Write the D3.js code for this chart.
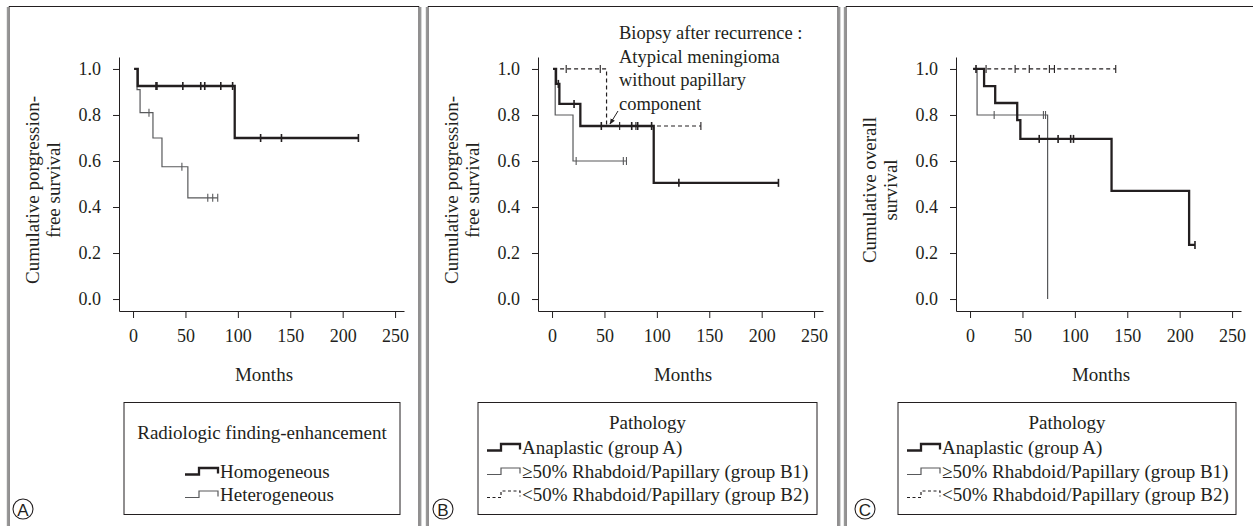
<!DOCTYPE html>
<html>
<head>
<meta charset="utf-8">
<script src="https://cdn.jsdelivr.net/npm/d3@7"></script>
<style>
  body { margin: 0; background: #fff; }
  text { font-family: "Liberation Serif", "DejaVu Serif", serif; fill: #231f20; }
</style>
</head>
<body>
<svg id="chart" width="1253" height="526"></svg>
<script>
// tick values
var xTicks = [0, 50, 100, 150, 200, 250]
var yTicks = [0, 0.2, 0.4, 0.6, 0.8, 1.0]

// panel A : radiologic finding (progression-free)
var aHomoSteps = [[1, 1], [4.5, 0.926], [97, 0.70]]
var aHomoCensor = [21.9, 22.8, 47.5, 64.6, 68.4, 83.7, 95, 121.7, 141.6, 215]
var aHomoEnd = 215
var aHeteroSteps = [[1, 1], [3.8, 0.91], [6.7, 0.81], [19, 0.70], [27.6, 0.575], [52.3, 0.44]]
var aHeteroCensor = [15.2, 46.6, 71.3, 76, 80.8]
var aHeteroEnd = 80.8

// panel B : pathology (progression-free)
var bGroupASteps = [[1, 1], [3.8, 0.935], [7, 0.848], [27, 0.752], [97, 0.505]]
var bGroupACensor = [6, 21, 47, 76, 81.7, 95, 121, 216]
var bGroupAEnd = 216
var bGroupB1Steps = [[1, 1], [3, 0.80], [20, 0.60]]
var bGroupB1Censor = [23, 68, 71]
var bGroupB1End = 71
var bGroupB2Steps = [[1, 1], [52, 0.752]]
var bGroupB2Censor = [13.5, 46, 64.5, 80, 142]
var bGroupB2End = 142

// panel C : pathology (overall)
var cGroupASteps = [[3, 1], [13.4, 0.925], [24, 0.852], [45, 0.778], [48, 0.696], [135, 0.47], [209, 0.235]]
var cGroupACensor = [5.7, 66, 84, 96, 98.7, 214.6]
var cGroupAEnd = 214.6
var cGroupB1Steps = [[3, 1], [6.7, 0.80], [74, 0.0]]
var cGroupB1Censor = [23, 70, 72]
var cGroupB1End = 74
var cGroupB2Steps = [[3, 1]]
var cGroupB2Censor = [15.3, 43, 56.5, 75.7, 80.5, 139]
var cGroupB2End = 139

var legendATitle = "Radiologic finding-enhancement"
var legendALabels = ["Homogeneous", "Heterogeneous"]
var legendBTitle = "Pathology"
var legendBLabels = ["Anaplastic (group A)", "\u226550% Rhabdoid/Papillary (group B1)", "<50% Rhabdoid/Papillary (group B2)"]
var noteLines = ["Biopsy after recurrence :", "Atypical meningioma", "without papillary", "component"]

var styles = {
  thick: {stroke: "#231f20", width: 2.3, dash: null},
  thin: {stroke: "#58595b", width: 1.2, dash: null},
  dashed: {stroke: "#231f20", width: 1.2, dash: "4,3"}
}

var svg = d3.select("#chart")

// panel frames
var frames = [[9, 419], [428, 838], [846, 1258]]
frames.forEach(function(f){
  svg.append("path")
    .attr("d", "M" + f[0] + ",530 V6.5 H" + f[1] + " V530")
    .attr("fill", "none").attr("stroke", "#231f20").attr("stroke-width", 1)
  svg.append("line").attr("x1", f[1] + 1.6).attr("x2", f[1] + 1.6).attr("y1", 7).attr("y2", 530)
    .attr("stroke", "#999").attr("stroke-width", 1.6)
  svg.append("line").attr("x1", f[0] - 1.4).attr("x2", f[0] - 1.4).attr("y1", 7).attr("y2", 530)
    .attr("stroke", "#999").attr("stroke-width", 1.6)
})

var y = d3.scaleLinear().domain([-0.052, 1.052]).range([311, 57])

function drawPanel(axisX, yLines, curves){
  var x = d3.scaleLinear().domain([-13.4, 258.5]).range([axisX, axisX + 285])
  var g = svg.append("g")

  var xa = g.append("g").attr("transform", "translate(0,311)")
    .call(d3.axisBottom(x).tickValues(xTicks).tickSize(7).tickSizeOuter(0).tickPadding(11))
  var ya = g.append("g").attr("transform", "translate(" + axisX + ",0)")
    .call(d3.axisLeft(y).tickValues(yTicks).tickSize(6).tickSizeOuter(0).tickPadding(12).tickFormat(d3.format(".1f")))
  ;[xa, ya].forEach(function(a){
    a.attr("font-family", null)
    a.selectAll("path, line").attr("stroke", "#231f20")
    a.selectAll("text").style("font-family", "Liberation Serif").style("font-size", "18px").attr("fill", "#231f20")
  })

  g.append("text").attr("x", axisX + 145).attr("y", 381).attr("text-anchor", "middle")
    .style("font-size", "19px").text("Months")

  yLines.forEach(function(t, i){
    g.append("text")
      .attr("transform", "translate(" + (axisX - 80 + i * 21) + ",190) rotate(-90)")
      .attr("text-anchor", "middle").style("font-size", "19px").text(t)
  })

  var line = d3.line().x(function(d){ return x(d[0]) }).y(function(d){ return y(d[1]) }).curve(d3.curveStepAfter)

  curves.forEach(function(c){
    var st = styles[c.style]
    var pts = c.steps.slice()
    pts.push([c.end, c.steps[c.steps.length - 1][1]])
    var p = g.append("path").datum(pts).attr("d", line)
      .attr("fill", "none").attr("stroke", st.stroke).attr("stroke-width", st.width)
    if (st.dash) p.attr("stroke-dasharray", st.dash)

    g.selectAll(null).data(c.censor).enter().append("line")
      .attr("x1", function(t){ return x(t) }).attr("x2", function(t){ return x(t) })
      .attr("y1", function(t){ return y(survAt(c.steps, t)) - 4 })
      .attr("y2", function(t){ return y(survAt(c.steps, t)) + 4 })
      .attr("stroke", st.stroke).attr("stroke-width", c.style == "thick" ? 1.6 : 1.1)
  })
  return x
}

function survAt(steps, t){
  var v = steps[0][1]
  steps.forEach(function(s){ if (s[0] <= t) v = s[1] })
  return v
}

drawPanel(119, ["Cumulative porgression-", "free survival"], [
  {steps: aHeteroSteps, censor: aHeteroCensor, end: aHeteroEnd, style: "thin"},
  {steps: aHomoSteps, censor: aHomoCensor, end: aHomoEnd, style: "thick"}
])
drawPanel(538, ["Cumulative porgression-", "free survival"], [
  {steps: bGroupB1Steps, censor: bGroupB1Censor, end: bGroupB1End, style: "thin"},
  {steps: bGroupB2Steps, censor: bGroupB2Censor, end: bGroupB2End, style: "dashed"},
  {steps: bGroupASteps, censor: bGroupACensor, end: bGroupAEnd, style: "thick"}
])
drawPanel(956, ["Cumulative overall", "survival"], [
  {steps: cGroupB1Steps, censor: cGroupB1Censor, end: cGroupB1End, style: "thin"},
  {steps: cGroupB2Steps, censor: cGroupB2Censor, end: cGroupB2End, style: "dashed"},
  {steps: cGroupASteps, censor: cGroupACensor, end: cGroupAEnd, style: "thick"}
])

// annotation in panel B
noteLines.forEach(function(t, i){
  svg.append("text").attr("x", 619).attr("y", 39 + i * 23.5).style("font-size", "18.5px").text(t)
})
svg.append("defs").append("marker").attr("id", "arr").attr("viewBox", "0 0 10 10")
  .attr("refX", 9).attr("refY", 5).attr("markerWidth", 6).attr("markerHeight", 6).attr("orient", "auto")
  .append("path").attr("d", "M0,1 L10,5 L0,9 z").attr("fill", "#231f20")
svg.append("line").attr("x1", 618).attr("y1", 111).attr("x2", 610).attr("y2", 124)
  .attr("stroke", "#231f20").attr("stroke-width", 1).attr("marker-end", "url(#arr)")

// legends
function legendSymbol(x0, yc, st){
  var p = svg.append("path")
    .attr("d", "M" + x0 + "," + (yc + 2.5) + " H" + (x0 + 14) + " V" + (yc - 4) + " H" + (x0 + 33) + " V" + (yc + 1.5))
    .attr("fill", "none").attr("stroke", st.stroke).attr("stroke-width", st.width)
  if (st.dash) p.attr("stroke-dasharray", "3,2.5")
}

function drawLegend(x0, x1, title, titleY, labels, itemYs, symX, sty){
  svg.append("rect").attr("x", x0).attr("y", 402.5).attr("width", x1 - x0).attr("height", 112)
    .attr("fill", "#fff").attr("stroke", "#231f20").attr("stroke-width", 1)
  svg.append("text").attr("x", (x0 + x1) / 2).attr("y", titleY).attr("text-anchor", "middle")
    .style("font-size", "19px").text(title)
  labels.forEach(function(l, i){
    legendSymbol(symX, itemYs[i], styles[sty[i]])
    svg.append("text").attr("x", symX + 35).attr("y", itemYs[i] + 6).style("font-size", "19px").text(l)
  })
}

drawLegend(124, 400, legendATitle, 439, legendALabels, [472, 495], 185, ["thick", "thin"])
drawLegend(478, 817, legendBTitle, 429, legendBLabels, [448, 472, 495], 487, ["thick", "thin", "dashed"])
drawLegend(898, 1236, legendBTitle, 429, legendBLabels, [448, 472, 495], 907, ["thick", "thin", "dashed"])

// panel letters
var letters = [["A", 23], ["B", 443], ["C", 865]]
letters.forEach(function(l){
  svg.append("circle").attr("cx", l[1]).attr("cy", 509).attr("r", 10)
    .attr("fill", "none").attr("stroke", "#231f20").attr("stroke-width", 1.1)
  svg.append("text").attr("x", l[1]).attr("y", 515.5).attr("text-anchor", "middle")
    .style("font-family", "Liberation Sans").style("font-size", "17px").text(l[0])
})
</script>
</body>
</html>
